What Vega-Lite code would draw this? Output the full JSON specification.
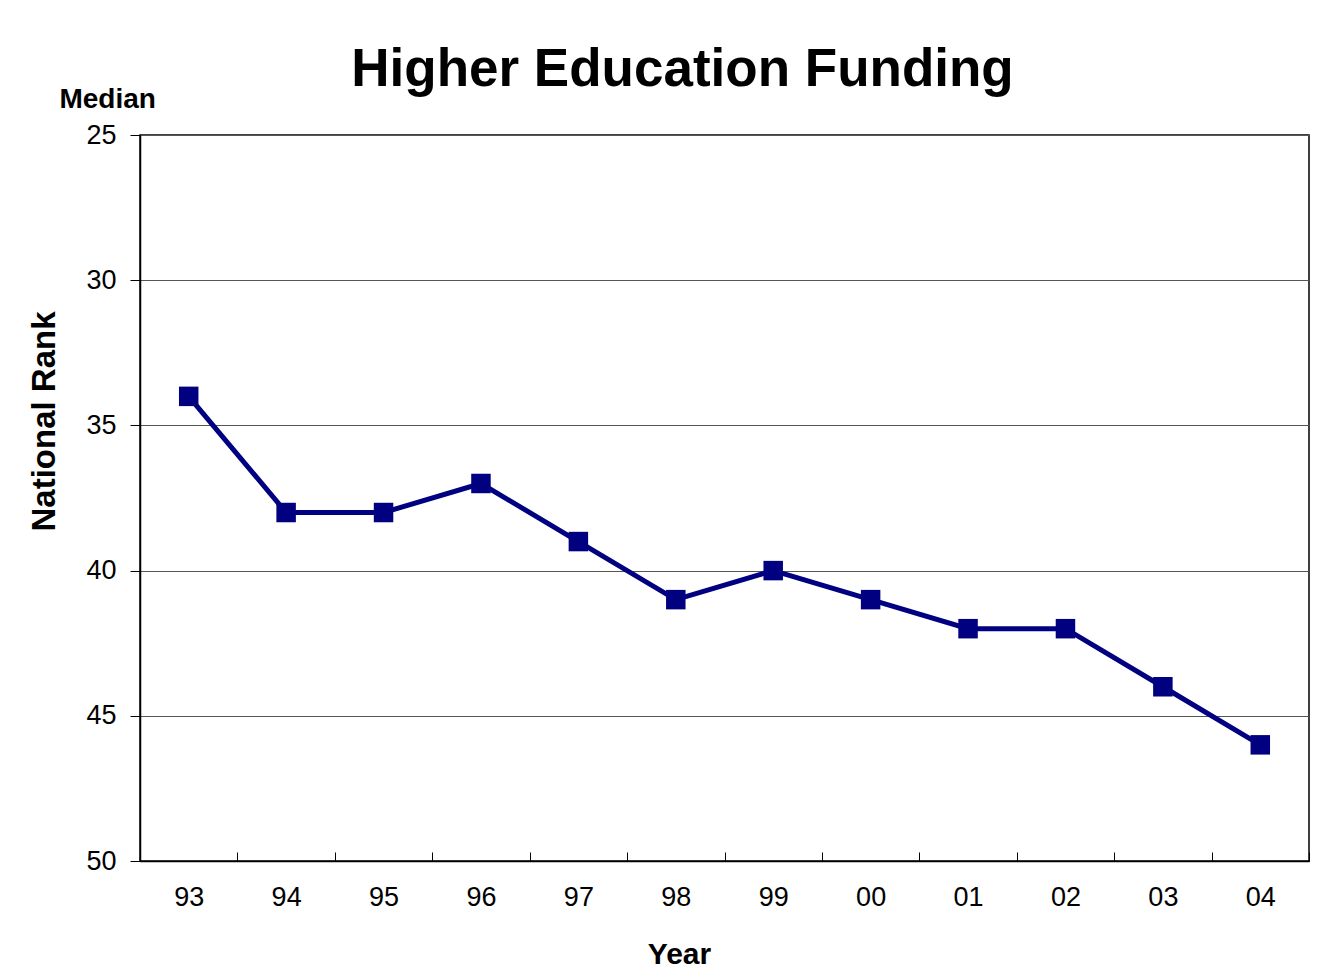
{
  "$schema": "https://vega.github.io/schema/vega-lite/v6.json",
  "autosize": {"type": "none"},
  "width": 1169,
  "height": 726,
  "padding": {"left": 140, "top": 135, "right": 10, "bottom": 116},
  "background": "white",
  "title": {
    "text": "Higher Education Funding",
    "fontSize": 53,
    "font": "Liberation Sans",
    "fontWeight": "bold",
    "color": "black",
    "anchor": "middle",
    "frame": "group",
    "dx": -42,
    "dy": 53,
    "offset": 42
  },
  "config": {
    "view": {"stroke": "black", "strokeWidth": 1.5},
    "font": "Liberation Sans"
  },
  "data": {
    "values": [
      {"year": "93", "rank": 34},
      {"year": "94", "rank": 38},
      {"year": "95", "rank": 38},
      {"year": "96", "rank": 37},
      {"year": "97", "rank": 39},
      {"year": "98", "rank": 41},
      {"year": "99", "rank": 40},
      {"year": "00", "rank": 41},
      {"year": "01", "rank": 42},
      {"year": "02", "rank": 42},
      {"year": "03", "rank": 44},
      {"year": "04", "rank": 46}
    ]
  },
  "encoding": {
    "x": {
      "field": "year",
      "type": "ordinal",
      "sort": null,
      "scale": {"type": "band", "paddingInner": 0, "paddingOuter": 0},
      "axis": {
        "title": "Year",
        "titleFontSize": 30,
        "titleFontWeight": "bold",
        "titleColor": "black",
        "titlePadding": 29,
        "titleX": 539,
        "labelAngle": 0,
        "labelFontSize": 27,
        "labelColor": "black",
        "labelPadding": 32,
        "tickBand": "extent",
        "tickSize": -9,
        "tickColor": "black",
        "domainColor": "black",
        "domainWidth": 1.5,
        "grid": false
      }
    },
    "y": {
      "field": "rank",
      "type": "quantitative",
      "scale": {"domain": [25, 50], "reverse": true, "nice": false, "zero": false},
      "axis": {
        "title": "National Rank",
        "titleFontSize": 33,
        "titleFontWeight": "bold",
        "titleColor": "black",
        "titlePadding": 24,
        "titleY": 286,
        "values": [25, 30, 35, 40, 45, 50],
        "labelFontSize": 27,
        "labelColor": "black",
        "labelPadding": 14,
        "tickSize": 10,
        "tickColor": "black",
        "domainColor": "black",
        "domainWidth": 1.5,
        "grid": true,
        "gridColor": "#555555",
        "gridWidth": 1
      }
    }
  },
  "layer": [
    {
      "mark": {"type": "line", "color": "#000080", "strokeWidth": 5}
    },
    {
      "mark": {"type": "point", "shape": "square", "filled": true, "opacity": 1, "color": "#000080", "size": 380}
    },
    {
      "data": {"values": [{"label": "Median", "year": "93", "rank": 25}]},
      "mark": {"type": "text", "fontSize": 28, "fontWeight": "bold", "color": "black", "dx": -81, "dy": -35, "align": "center", "baseline": "middle"},
      "encoding": {"text": {"field": "label"}}
    }
  ]
}
